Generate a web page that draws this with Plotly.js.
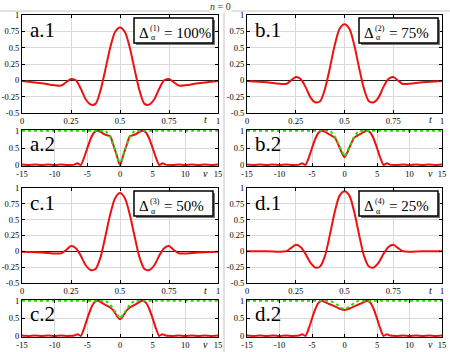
<!DOCTYPE html>
<html>
<head>
<meta charset="utf-8">
<script src="https://cdn.plot.ly/plotly-3.0.1.min.js"></script>
<style>
  html, body { margin: 0; padding: 0; background: #fff; }
  #chart { width: 450px; height: 352px; }
</style>
</head>
<body>
<div id="chart"></div>
<script>
// Time-domain pulses (t) and their spectra (nu) for four values of Delta_alpha.
const tGrid = [0, 0.1, 0.2, 0.225, 0.25, 0.275, 0.3, 0.325, 0.35, 0.375, 0.4, 0.425, 0.45, 0.475, 0.5,
  0.525, 0.55, 0.575, 0.6, 0.625, 0.65, 0.675, 0.7, 0.725, 0.75, 0.775, 0.8, 0.9, 1];

const sigA = [-0.01, -0.045, -0.08, -0.03, 0.02, 0.0, -0.13, -0.29, -0.37, -0.36, -0.16, 0.16, 0.5, 0.74, 0.81,
  0.74, 0.5, 0.16, -0.16, -0.36, -0.37, -0.29, -0.13, 0.0, 0.02, -0.03, -0.08, -0.045, -0.01];
const sigB = [-0.01, -0.03, -0.055, -0.005, 0.05, 0.02, -0.1, -0.26, -0.335, -0.32, -0.13, 0.19, 0.54, 0.79, 0.86,
  0.79, 0.54, 0.19, -0.13, -0.32, -0.335, -0.26, -0.1, 0.02, 0.05, -0.005, -0.055, -0.03, -0.01];
const sigC = [-0.005, -0.018, -0.03, 0.02, 0.085, 0.05, -0.07, -0.22, -0.295, -0.28, -0.1, 0.23, 0.58, 0.84, 0.92,
  0.84, 0.58, 0.23, -0.1, -0.28, -0.295, -0.22, -0.07, 0.05, 0.085, 0.02, -0.03, -0.018, -0.005];
const sigD = [0, 0, 0, 0.05, 0.105, 0.07, -0.04, -0.18, -0.255, -0.24, -0.07, 0.26, 0.62, 0.88, 0.95,
  0.88, 0.62, 0.26, -0.07, -0.24, -0.255, -0.18, -0.04, 0.07, 0.105, 0.05, 0, 0, 0];

const nuGrid = [-15, -14, -13, -12, -11, -10, -9, -8, -7, -6.5, -6, -5.5, -5, -4.5, -4, -3.5, -3, -2.5, -2, -1.5, -1, -0.5, 0,
  0.5, 1, 1.5, 2, 2.5, 3, 3.5, 4, 4.5, 5, 5.5, 6, 6.5, 7, 8, 9, 10, 11, 12, 13, 14, 15];

const specA = [0.02, 0.01, 0.02, 0.01, 0.02, 0.01, 0.02, 0.01, 0.02, 0.06, 0.01, 0.22, 0.5, 0.76, 0.94, 1.0, 0.97, 0.91, 0.87, 0.84, 0.58, 0.29, 0.0,
  0.29, 0.58, 0.84, 0.87, 0.91, 0.97, 1.0, 0.94, 0.76, 0.5, 0.22, 0.01, 0.06, 0.02, 0.01, 0.02, 0.01, 0.02, 0.01, 0.02, 0.01, 0.02];
const specB = [0.02, 0.01, 0.02, 0.01, 0.02, 0.01, 0.02, 0.01, 0.02, 0.06, 0.01, 0.22, 0.5, 0.76, 0.94, 1.0, 0.97, 0.91, 0.86, 0.8, 0.62, 0.4, 0.23,
  0.4, 0.62, 0.8, 0.86, 0.91, 0.97, 1.0, 0.94, 0.76, 0.5, 0.22, 0.01, 0.06, 0.02, 0.01, 0.02, 0.01, 0.02, 0.01, 0.02, 0.01, 0.02];
const specC = [0.02, 0.01, 0.02, 0.01, 0.02, 0.01, 0.02, 0.01, 0.02, 0.06, 0.01, 0.22, 0.5, 0.76, 0.94, 1.0, 0.97, 0.91, 0.86, 0.81, 0.72, 0.58, 0.48,
  0.58, 0.72, 0.81, 0.86, 0.91, 0.97, 1.0, 0.94, 0.76, 0.5, 0.22, 0.01, 0.06, 0.02, 0.01, 0.02, 0.01, 0.02, 0.01, 0.02, 0.01, 0.02];
const specD = [0.02, 0.01, 0.02, 0.01, 0.02, 0.01, 0.02, 0.01, 0.02, 0.06, 0.01, 0.22, 0.5, 0.76, 0.94, 1.0, 0.96, 0.92, 0.88, 0.84, 0.8, 0.76, 0.74,
  0.76, 0.8, 0.84, 0.88, 0.92, 0.96, 1.0, 0.94, 0.76, 0.5, 0.22, 0.01, 0.06, 0.02, 0.01, 0.02, 0.01, 0.02, 0.01, 0.02, 0.01, 0.02];

const maskNu = [-15, -2.2, -1.5, -1, -0.5, 0, 0.5, 1, 1.5, 2.2, 15];
const maskA = [1, 1, 0.82, 0.58, 0.3, 0, 0.3, 0.58, 0.82, 1, 1];
const maskB = [1, 1, 0.84, 0.64, 0.43, 0.25, 0.43, 0.64, 0.84, 1, 1];
const maskC = [1, 1, 0.89, 0.75, 0.61, 0.5, 0.61, 0.75, 0.89, 1, 1];
const maskD = [1, 1, 0.94, 0.86, 0.8, 0.76, 0.8, 0.86, 0.94, 1, 1];

const panelKeys = ['a', 'b', 'c', 'd'];
const deltaIdx = ['(1)', '(2)', '(3)', '(4)'];
const deltaPct = ['100%', '75%', '50%', '25%'];

const tTicks = [0, 0.25, 0.5, 0.75, 1];
const tTickText = ['0', '0.25', '0.5', '0.75', '1'];
const yTicks1 = [-0.5, -0.25, 0, 0.25, 0.5, 0.75, 1];
const yTickText1 = ['-0.5', '-0.25', '0', '0.25', '0.5', '0.75', '1'];
const nuTicks = [-15, -10, -5, 0, 5, 10, 15];
const nuTickText = ['-15', '-10', '-5', '0', '5', '10', '15'];
const yTicks2 = [0, 0.5, 1];
const yTickText2 = ['0', '0.5', '1'];

const W = 450, H = 352;
const RED = '#ee1111';
const GREEN = '#22dd00';
const SERIF = 'Times New Roman, Liberation Serif, DejaVu Serif';

const px = (x) => x / W;
const py = (y) => 1 - y / H;

// pixel geometry of the panel grid
const COLS = [[22, 218], [247, 442]];
const ROWS = [
  { top1: 15, bot1: 113, top2: 130, bot2: 166 },
  { top1: 188, bot1: 283, top2: 300, bot2: 337 },
];

const sigs = [sigA, sigB, sigC, sigD];
const specs = [specA, specB, specC, specD];
const masks = [maskA, maskB, maskC, maskD];

const tickFont = { family: SERIF, size: 8.5, color: '#000' };

function xAxis(dom, range, vals, text, anchor) {
  return {
    domain: dom, range, anchor,
    tickvals: vals, ticktext: text, tickfont: tickFont,
    showline: true, linecolor: '#000', linewidth: 1, mirror: 'ticks',
    ticks: 'inside', ticklen: 3, tickcolor: '#000',
    showgrid: true, gridcolor: '#dadada', gridwidth: 1,
    zeroline: false, fixedrange: true,
  };
}
function yAxis(dom, range, vals, text, anchor, zero) {
  return {
    domain: dom, range, anchor,
    tickvals: vals, ticktext: text, tickfont: tickFont,
    showline: true, linecolor: '#000', linewidth: 1, mirror: 'ticks',
    ticks: 'inside', ticklen: 3, tickcolor: '#000',
    showgrid: true, gridcolor: '#dadada', gridwidth: 1,
    zeroline: zero, zerolinecolor: '#222', zerolinewidth: 1.5, fixedrange: true,
  };
}

const traces = [];
const layout = {
  width: W, height: H,
  margin: { l: 0, r: 0, t: 0, b: 0 },
  paper_bgcolor: '#fff', plot_bgcolor: '#fff',
  showlegend: false,
  font: { family: SERIF },
  annotations: [],
  shapes: [],
};

panelKeys.forEach((key, i) => {
  const col = COLS[i % 2];
  const row = ROWS[Math.floor(i / 2)];
  const n1 = 2 * i + 1, n2 = 2 * i + 2;
  const xd = [px(col[0]), px(col[1])];

  layout['xaxis' + n1] = xAxis(xd, [0, 1], tTicks, tTickText, 'y' + n1);
  layout['yaxis' + n1] = yAxis([py(row.bot1), py(row.top1)], [-0.5, 1], yTicks1, yTickText1, 'x' + n1, true);
  layout['xaxis' + n2] = xAxis(xd, [-15, 15], nuTicks, nuTickText, 'y' + n2);
  layout['yaxis' + n2] = yAxis([py(row.bot2), py(row.top2)], [-0.02, 1.02], yTicks2, yTickText2, 'x' + n2, false);

  traces.push({
    x: tGrid, y: sigs[i], xaxis: 'x' + n1, yaxis: 'y' + n1,
    mode: 'lines', line: { color: RED, width: 2, shape: 'spline', smoothing: 0.8 },
    hoverinfo: 'skip',
  });
  traces.push({
    x: nuGrid, y: specs[i], xaxis: 'x' + n2, yaxis: 'y' + n2,
    mode: 'lines', line: { color: RED, width: 2, shape: 'spline', smoothing: 0.6 },
    hoverinfo: 'skip',
  });
  traces.push({
    x: maskNu, y: masks[i], xaxis: 'x' + n2, yaxis: 'y' + n2,
    mode: 'lines', line: { color: GREEN, width: 2, dash: 'dot' },
    hoverinfo: 'skip',
  });

  const L = col[0];
  const ann = (x, y, text, size, anchor) => ({
    xref: 'paper', yref: 'paper', x: px(x), y: py(y), text,
    showarrow: false, xanchor: anchor || 'left', yanchor: 'middle',
    font: { family: SERIF, size, color: '#000' },
  });
  // panel labels
  layout.annotations.push(ann(L + 6, row.top1 + 15, key + '.1', 21));
  layout.annotations.push(ann(L + 6, row.top2 + 14, key + '.2', 21));
  // axis names next to the last tick
  layout.annotations.push(ann(L + 183, row.bot1 + 7, '<i>t</i>', 10, 'center'));
  layout.annotations.push(ann(L + 183, row.bot2 + 7, '<i>ν</i>', 10, 'center'));

  // Delta box with shadow
  const bx0 = L + 112, bx1 = L + 191, by0 = row.top1 + 3, by1 = row.top1 + 28;
  layout.shapes.push({
    type: 'rect', xref: 'paper', yref: 'paper',
    x0: px(bx0 + 2), x1: px(bx1 + 2), y0: py(by0 + 2), y1: py(by1 + 2),
    fillcolor: '#777', line: { width: 0 },
  });
  layout.shapes.push({
    type: 'rect', xref: 'paper', yref: 'paper',
    x0: px(bx0), x1: px(bx1), y0: py(by0), y1: py(by1),
    fillcolor: '#fff', line: { color: '#000', width: 1.5 },
  });
  layout.annotations.push(ann(L + 115, row.top1 + 18, 'Δ', 15));
  layout.annotations.push(ann(L + 126, row.top1 + 13, deltaIdx[i], 8));
  layout.annotations.push(ann(L + 127, row.top1 + 23, 'α', 8));
  layout.annotations.push(ann(L + 140, row.top1 + 18, '= ' + deltaPct[i], 15));
});

// figure frame lines and title
layout.shapes.push({
  type: 'line', xref: 'paper', yref: 'paper',
  x0: px(224), x1: px(224), y0: py(11), y1: 0, line: { color: '#c4c4c4', width: 1 }, layer: 'below',
});
layout.shapes.push({
  type: 'line', xref: 'paper', yref: 'paper',
  x0: 0, x1: 1, y0: py(11), y1: py(11), line: { color: '#c4c4c4', width: 1 }, layer: 'below',
});
layout.annotations.push({
  xref: 'paper', yref: 'paper', x: px(220), y: 1, yanchor: 'top', xanchor: 'center',
  text: '<i>n</i> = 0', showarrow: false, font: { family: SERIF, size: 10, color: '#333' },
  bgcolor: '#fff', borderpad: 0,
});

Plotly.newPlot('chart', traces, layout, { staticPlot: true, displayModeBar: false });
</script>
</body>
</html>
